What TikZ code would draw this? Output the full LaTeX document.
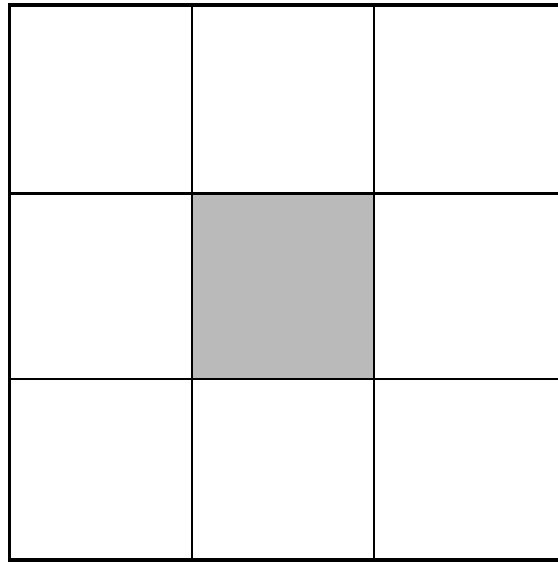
\documentclass[tikz,border=0pt]{standalone}
\begin{document}
\begin{tikzpicture}[x=1pt,y=-1pt,
  outer/.style={line width=3.6pt,line cap=rect},
  inner/.style={line width=2.6pt},
  shade/.style={fill=black!27}]
\useasboundingbox (0,0) rectangle (557,565);
\fill[white] (0,0) rectangle (557,565);
\fill[shade] (192,194) rectangle (374,379);
% outer border (right side runs off the picture)
\draw[outer] (562,5) -- (9.5,5) -- (9.5,560) -- (562,560);
% inner lines
\draw[inner] (192,5) -- (192,560);
\draw[inner] (374,5) -- (374,560);
\draw[inner] (9.5,193.5) -- (562,193.5);
\draw[inner] (9.5,379) -- (562,379);
\end{tikzpicture}
\end{document}
